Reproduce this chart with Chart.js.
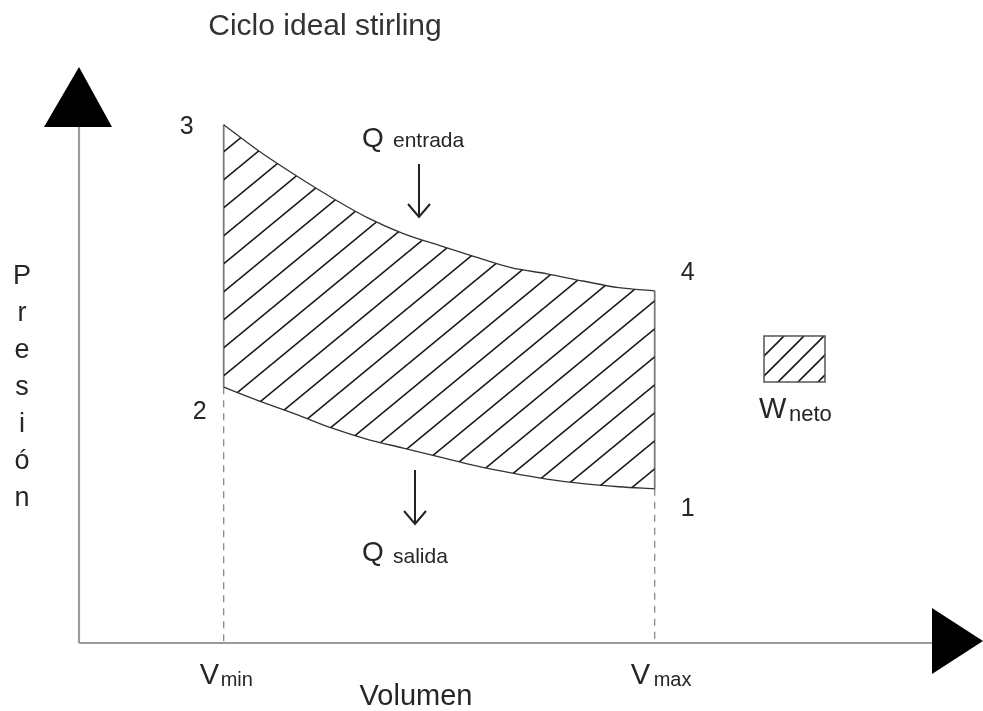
<!DOCTYPE html>
<html><head><meta charset="utf-8">
<script src="https://cdn.jsdelivr.net/npm/chart.js@4/dist/chart.umd.min.js"></script>
<style>html,body{margin:0;padding:0;background:#fff}#wrap{width:983px;height:711px}</style>
</head><body><div id="wrap"><canvas id="c" width="983" height="711"></canvas></div>
<script>
// ---- data ----
const volumes = [2, 2.5, 3, 3.5, 4, 4.5, 5, 5.5, 6, 6.5, 7, 7.5, 8];
const pUpper  = [10.05, 9.53, 9.07, 8.64, 8.25, 7.94, 7.71, 7.49, 7.28, 7.16, 7.02, 6.89, 6.83];
const pLower  = [4.96, 4.69, 4.44, 4.17, 3.95, 3.78, 3.61, 3.44, 3.30, 3.18, 3.09, 3.03, 2.99];
const vMin = 2, vMax = 8;
const titleText = 'Ciclo ideal stirling';
const xTitle = 'Volumen';
const yTitle = 'Presión';
const tickLabels = [['V', 'min'], ['V', 'max']];
const stateLabels = ['1', '2', '3', '4'];
const heatLabels = [['Q', 'entrada'], ['Q', 'salida']];
const legendLabel = ['W', 'neto'];

const upperPts = volumes.map((v, i) => ({x: v, y: pUpper[i]}));
const lowerPts = volumes.map((v, i) => ({x: v, y: pLower[i]}));
const p3 = upperPts[0], p4 = upperPts[upperPts.length - 1];
const p2 = lowerPts[0], p1 = lowerPts[lowerPts.length - 1];

function makeHatch(w, h, lw, color) {
  const c = document.createElement('canvas');
  c.width = w; c.height = h;
  const g = c.getContext('2d');
  g.strokeStyle = color; g.lineWidth = lw; g.lineCap = 'square';
  g.beginPath();
  for (const o of [-w, 0, w]) { g.moveTo(o, h); g.lineTo(o + w, 0); }
  g.stroke();
  return g.createPattern(c, 'repeat');
}
const hatchMain = makeHatch(34, 28, 1.6, '#1a1a1a');
const hatchLegend = makeHatch(20, 20, 1.6, '#1a1a1a');

const FONT = "'Liberation Sans', Arial, sans-serif";
const TXT = '#262626';

const decor = {
  id: 'decor',
  beforeDatasetsDraw(chart) {
    const ctx = chart.ctx, xs = chart.scales.x, ys = chart.scales.y;
    const ox = xs.getPixelForValue(0) - 1, oy = ys.getPixelForValue(0);
    const top = chart.chartArea.top, right = chart.chartArea.right;
    ctx.save();
    ctx.strokeStyle = '#9a9a9a'; ctx.lineWidth = 2.2;
    ctx.beginPath();
    ctx.moveTo(ox, oy); ctx.lineTo(ox, top + 60);
    ctx.moveTo(ox, oy); ctx.lineTo(right - 51, oy);
    ctx.stroke();
    ctx.fillStyle = '#000';
    ctx.beginPath();
    ctx.moveTo(ox, top); ctx.lineTo(ox - 35, top + 60); ctx.lineTo(ox + 33, top + 60); ctx.closePath();
    ctx.fill();
    ctx.beginPath();
    ctx.moveTo(right, oy - 2); ctx.lineTo(right - 51, oy - 35); ctx.lineTo(right - 51, oy + 31); ctx.closePath();
    ctx.fill();
    ctx.restore();
  },
  afterDraw(chart) {
    const ctx = chart.ctx, xs = chart.scales.x, ys = chart.scales.y;
    const P = (pt) => [xs.getPixelForValue(pt.x), ys.getPixelForValue(pt.y)];
    ctx.save();
    ctx.fillStyle = TXT;
    ctx.textBaseline = 'alphabetic';
    // title
    ctx.font = '30px ' + FONT; ctx.textAlign = 'center'; ctx.fillStyle = '#333';
    ctx.fillText(titleText, 325, 35);
    ctx.fillStyle = TXT;
    // state labels
    ctx.font = '25px ' + FONT;
    const [x1, y1] = P(p1), [x2, y2] = P(p2), [x3, y3] = P(p3), [x4, y4] = P(p4);
    ctx.fillText(stateLabels[0], x1 + 33, y1 + 27);
    ctx.fillText(stateLabels[1], x2 - 24, y2 + 32);
    ctx.fillText(stateLabels[2], x3 - 37, y3 + 9);
    ctx.fillText(stateLabels[3], x4 + 33, y4 - 11);
    // heat labels
    ctx.textAlign = 'left';
    ctx.font = '28px ' + FONT; ctx.fillText(heatLabels[0][0], 362, 147);
    ctx.font = '21px ' + FONT; ctx.fillText(heatLabels[0][1], 393, 147);
    ctx.font = '28px ' + FONT; ctx.fillText(heatLabels[1][0], 362, 561);
    ctx.font = '21px ' + FONT; ctx.fillText(heatLabels[1][1], 393, 563);
    // heat arrows
    ctx.strokeStyle = '#222'; ctx.lineWidth = 2;
    const arrow = (x, yT, yB) => {
      ctx.beginPath(); ctx.moveTo(x, yT); ctx.lineTo(x, yB);
      ctx.moveTo(x - 11, yB - 13); ctx.lineTo(x, yB); ctx.lineTo(x + 11, yB - 13);
      ctx.stroke();
    };
    arrow(419, 164, 217);
    arrow(415, 470, 524);
    // tick labels
    const xa = xs.getPixelForValue(vMin), xb = xs.getPixelForValue(vMax);
    ctx.font = '29px ' + FONT; ctx.fillText(tickLabels[0][0], xa - 24, 684);
    ctx.font = '20px ' + FONT; ctx.fillText(tickLabels[0][1], xa - 3, 686);
    ctx.font = '29px ' + FONT; ctx.fillText(tickLabels[1][0], xb - 24, 684);
    ctx.font = '20px ' + FONT; ctx.fillText(tickLabels[1][1], xb - 1, 686);
    // axis titles
    ctx.textAlign = 'center';
    ctx.font = '29px ' + FONT; ctx.fillText(xTitle, 416, 705);
    ctx.font = '27px ' + FONT;
    [...yTitle].forEach((ch, i) => ctx.fillText(ch, 22, 284 + i * 37));
    // legend
    ctx.fillStyle = hatchLegend; ctx.fillRect(764, 336, 61, 46);
    ctx.strokeStyle = '#555'; ctx.lineWidth = 1.5; ctx.strokeRect(764, 336, 61, 46);
    ctx.fillStyle = TXT; ctx.textAlign = 'left';
    ctx.font = '29px ' + FONT; ctx.fillText(legendLabel[0], 759, 418);
    ctx.font = '22px ' + FONT; ctx.fillText(legendLabel[1], 789, 421);
    ctx.restore();
  }
};

new Chart(document.getElementById('c'), {
  type: 'line',
  data: {
    datasets: [
      {label: 'upper', data: upperPts, borderColor: '#333', borderWidth: 1.3, pointRadius: 0,
       cubicInterpolationMode: 'monotone', fill: '+1', backgroundColor: hatchMain},
      {label: 'lower', data: lowerPts, borderColor: '#333', borderWidth: 1.3, pointRadius: 0,
       cubicInterpolationMode: 'monotone', fill: false},
      {label: 'left edge', data: [p3, p2], borderColor: '#7a7a7a', borderWidth: 1.8, pointRadius: 0, fill: false},
      {label: 'right edge', data: [p4, p1], borderColor: '#7a7a7a', borderWidth: 1.8, pointRadius: 0, fill: false},
      {label: 'Vmin', data: [p2, {x: vMin, y: 0}], borderColor: '#8a8a8a', borderWidth: 1.3, borderDash: [7, 6], pointRadius: 0, fill: false},
      {label: 'Vmax', data: [p1, {x: vMax, y: 0}], borderColor: '#8a8a8a', borderWidth: 1.3, borderDash: [7, 6], pointRadius: 0, fill: false}
    ]
  },
  options: {
    responsive: false, animation: false,
    layout: {padding: {left: 80, right: 0, top: 67, bottom: 68}},
    scales: {
      x: {type: 'linear', min: 0, max: 12.57, display: false},
      y: {type: 'linear', min: 0, max: 11.17, display: false}
    },
    plugins: {legend: {display: false}, tooltip: {enabled: false}, title: {display: false}}
  },
  plugins: [decor]
});
</script></body></html>
